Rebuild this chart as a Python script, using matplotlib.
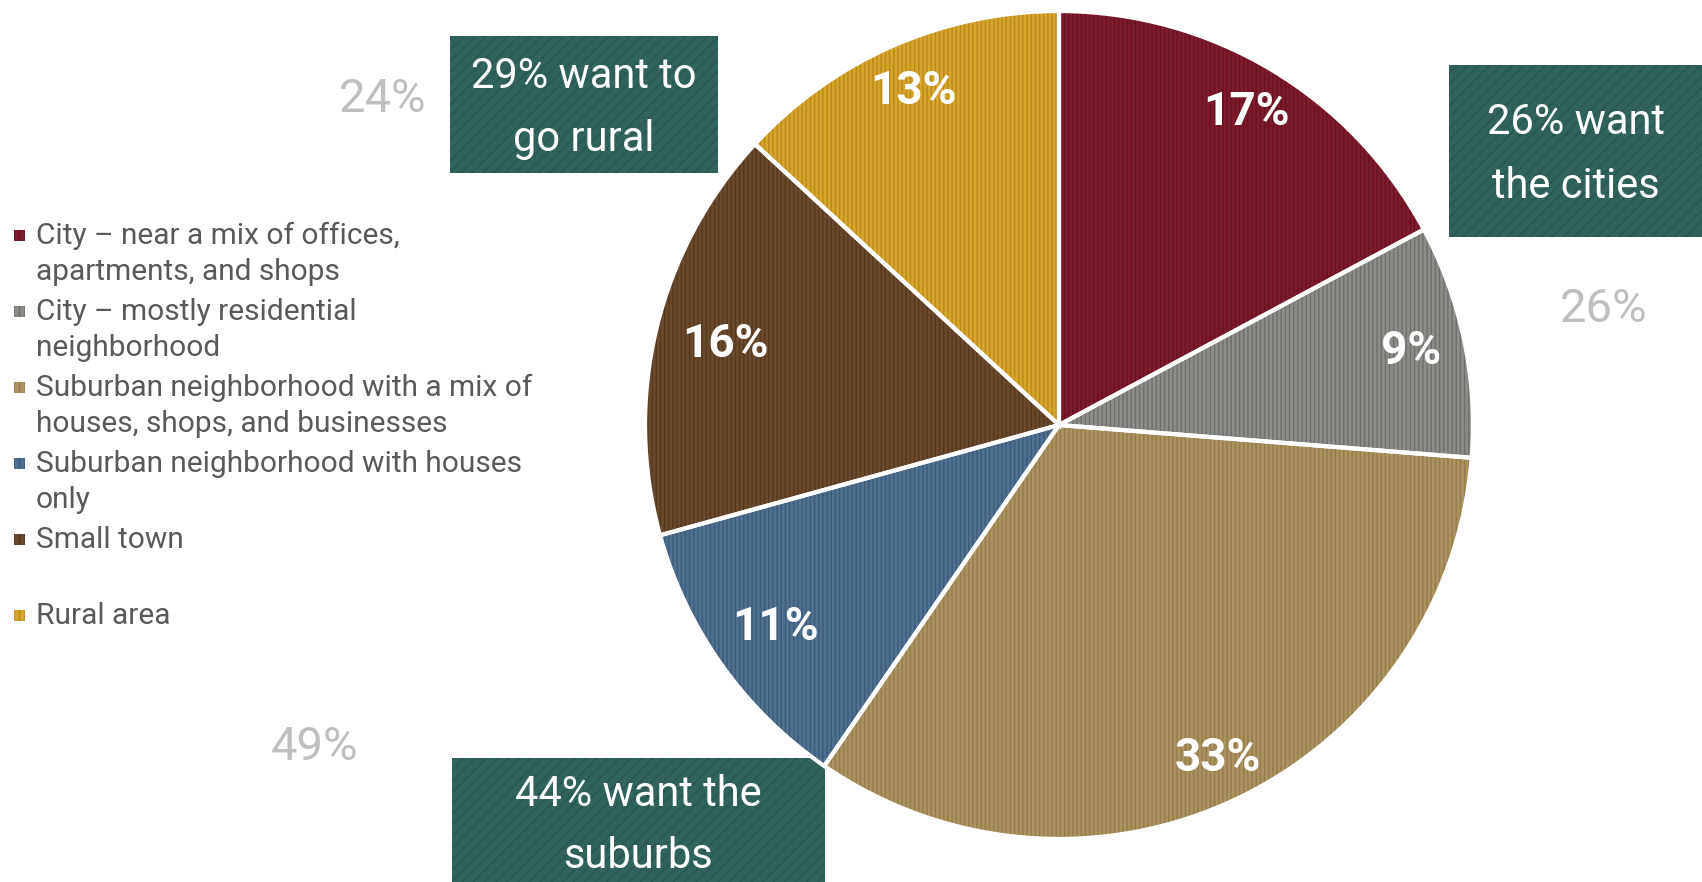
"""Pie chart of preferred place to live, with callout boxes."""

import matplotlib
matplotlib.use("Agg")
import matplotlib.pyplot as plt
import numpy as np
from matplotlib.patches import Rectangle

plt.rcParams['font.family'] = ['Roboto', 'DejaVu Sans']
plt.rcParams['hatch.linewidth'] = 1.0

# data
categories = [
    "City \u2013 near a mix of offices,\napartments, and shops",
    "City \u2013 mostly residential\nneighborhood",
    "Suburban neighborhood with a mix of\nhouses, shops, and businesses",
    "Suburban neighborhood with houses\nonly",
    "Small town",
    "Rural area",
]
values = [17, 9, 33, 11, 16, 13]
colors = ["#7E1A2C", "#8C8C88", "#AB935F", "#4F7090", "#6A4A2D", "#D8A42A"]
stripes = ["#651322", "#6E6E6A", "#927C4D", "#3E5A75", "#533822", "#B88A1E"]
label_dist = [0.88, 0.87, 0.89, 0.84, 0.83, 0.88]

group_totals = ["24%", "26%", "49%"]
callouts = [["29% want to", "go rural"], ["26% want", "the cities"], ["44% want the", "suburbs"]]

W, H = 1702, 882


def main():
    fig = plt.figure(figsize=(W / 100, H / 100), dpi=100)

    # overlay axes in pixel coordinates for legend, boxes and side numbers
    bg = fig.add_axes([0, 0, 1, 1])
    bg.set_xlim(0, W)
    bg.set_ylim(H, 0)
    bg.axis('off')

    # pie axes
    cx, cy, r = 1059, 425, 416
    ax = fig.add_axes([(cx - r) / W, (H - cy - r) / H, 2 * r / W, 2 * r / H])
    wedges, _ = ax.pie(values, colors=colors, startangle=90, counterclock=False,
                       wedgeprops=dict(linewidth=0))
    for w, sc in zip(wedges, stripes):
        w.set_hatch('||||')
        w.set_edgecolor(sc)
    ax.pie(values, startangle=90, counterclock=False,
           wedgeprops=dict(fill=False, edgecolor='white', linewidth=3))
    ax.set_xlim(-1.005, 1.005)
    ax.set_ylim(-1.005, 1.005)
    ax.axis('off')

    for w, v, d in zip(wedges, values, label_dist):
        ang = np.deg2rad((w.theta1 + w.theta2) / 2)
        ax.text(d * np.cos(ang), d * np.sin(ang), f"{v}%",
                ha='center', va='center', color='white', fontsize=33,
                fontweight='bold')

    # legend
    y0 = 236
    for i, (lab, col, sc) in enumerate(zip(categories, colors, stripes)):
        y = y0 + i * 76
        bg.add_patch(Rectangle((14, y - 6), 11, 11, facecolor=col,
                               edgecolor=sc, hatch='|||', linewidth=0))
        for j, line in enumerate(lab.split("\n")):
            bg.text(36, y + j * 36, line, ha='left', va='center',
                    fontsize=21.5, color='#595959')

    # grey group totals
    for txt, (x, y) in zip(group_totals, [(383, 99), (1604, 309), (315, 747)]):
        bg.text(x, y, txt, ha='center', va='center', fontsize=34, color='#BFBFBF')

    # callout boxes
    boxes = [(450, 36, 268, 137), (1449, 65, 253, 172), (452, 758, 373, 124)]
    text_x = [584, 1576, 638]
    line_y = [(76, 139), (123, 186), (794, 857)]
    for (bx, by, bw, bh), lines, xc, ly in zip(boxes, callouts, text_x, line_y):
        bg.add_patch(Rectangle((bx, by), bw, bh, facecolor='#31625C',
                               edgecolor='#2A5550', hatch='///', linewidth=0))
        for line, yy in zip(lines, ly):
            bg.text(xc, yy, line, ha='center', va='center', fontsize=30,
                    color='white')

    fig.savefig("out.png", dpi=100)


if __name__ == "__main__":
    main()
